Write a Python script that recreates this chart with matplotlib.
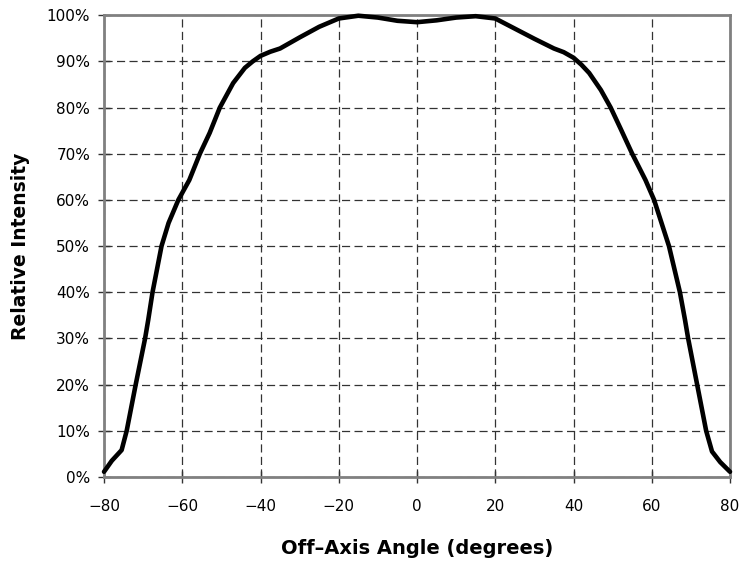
import matplotlib
matplotlib.use("Agg")
import matplotlib.pyplot as plt
from matplotlib.ticker import PercentFormatter

# beam profile
angle = [-80, -78, -75.5, -74.2, -71.9, -69.5, -68.7, -67.6, -65.3, -63.5, -61.0, -58.2, -55.5,
         -53, -50.4, -47, -44, -42, -40, -37.5, -35, -30, -25, -20, -15, -10, -5, 0,
         5, 10, 15, 20, 25, 30, 35, 37.5, 40, 42, 44, 47, 49.5, 52, 55, 58.4, 60.6,
         62.5, 64.4, 67.2, 68.5, 69.3, 71.6, 73.9, 75.4, 77.5, 80]
intensity = [1.1, 3.5, 5.8, 10, 20, 30, 34, 40, 50, 55, 60, 64.3, 70,
             74.5, 80, 85.3, 88.6, 90.0, 91.2, 92.1, 92.8, 95.2, 97.5, 99.3, 99.9, 99.5, 98.8, 98.5,
             98.9, 99.5, 99.8, 99.3, 97.1, 94.9, 92.8, 92.0, 90.8, 89.3, 87.5, 83.8, 80, 75.5, 70, 64.3, 60,
             55, 50, 40, 34, 30, 20, 10, 5.5, 3.2, 1.1]

xticks = [-80, -60, -40, -20, 0, 20, 40, 60, 80]
yticks = [0, 10, 20, 30, 40, 50, 60, 70, 80, 90, 100]

plt.rcParams['font.family'] = ['DejaVu Sans']

fig = plt.figure(figsize=(7.43, 5.65), dpi=100)
ax = fig.add_axes([0.140, 0.156, 0.8425, 0.817])

ax.plot(angle, intensity, color='black', lw=3.3, solid_capstyle='round',
        solid_joinstyle='round', zorder=3, clip_on=False)

ax.set_xlim(-80, 80)
ax.set_ylim(0, 100)
ax.set_xticks(xticks)
ax.set_yticks(yticks)
ax.yaxis.set_major_formatter(PercentFormatter(decimals=0))
ax.grid(True, color='#333333', ls=(0, (6.5, 3.5)), lw=0.9)
ax.tick_params(direction='inout', length=8, width=1, color='#333333', labelsize=11)
ax.tick_params(axis='x', pad=12)
ax.tick_params(axis='y', pad=6)

for s in ax.spines.values():
    s.set_color('#808080')
    s.set_linewidth(2)

ax.set_xlabel('Off\u2013Axis Angle (degrees)', fontsize=14, fontweight='bold', labelpad=18)
ax.set_ylabel('Relative Intensity', fontsize=13.5, fontweight='bold', labelpad=12)

fig.savefig('out.png', dpi=100)
